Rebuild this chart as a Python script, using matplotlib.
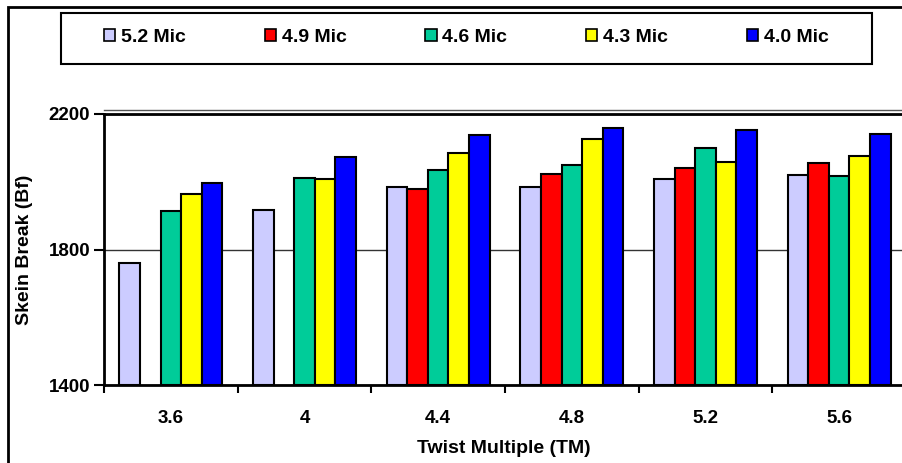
import numpy as np
import matplotlib
matplotlib.use("Agg")
import matplotlib.pyplot as plt
from matplotlib.patches import Rectangle
from matplotlib.transforms import ScaledTranslation

plt.rcParams["font.family"] = ["Liberation Sans", "DejaVu Sans"]
plt.rcParams["font.weight"] = "bold"

# Data
twist_multiple = ["3.6", "4", "4.4", "4.8", "5.2", "5.6"]
series_names = ["5.2 Mic", "4.9 Mic", "4.6 Mic", "4.3 Mic", "4.0 Mic"]
mic_52 = [1760, 1917, 1984, 1984, 2008, 2020]
mic_49 = [np.nan, np.nan, 1979, 2024, 2041, 2054]
mic_46 = [1914, 2010, 2034, 2049, 2099, 2017]
mic_43 = [1963, 2007, 2085, 2125, 2058, 2076]
mic_40 = [1995, 2073, 2139, 2159, 2152, 2140]
colors = ["#CCCCFF", "#FF0000", "#00CC99", "#FFFF00", "#0000FF"]

series = [mic_52, mic_49, mic_46, mic_43, mic_40]

W, H = 903, 463
fig = plt.figure(figsize=(W / 100, H / 100), dpi=100)
fig.patch.set_facecolor("white")

# plot area (right edge runs off the picture like the original)
ax = fig.add_axes([104 / W, (H - 385) / H, 802 / W, 271 / H])

x = np.arange(len(twist_multiple))
bar_w = 1 / 6.5
for i, (vals, name, col) in enumerate(zip(series, series_names, colors)):
    offs = (i - 2) * bar_w
    ax.bar(x + offs, np.array(vals) - 1400, bottom=1400, width=bar_w,
           color=col, edgecolor="black", linewidth=1.5, label=name, zorder=3)

ax.set_xlim(-0.5, len(twist_multiple) - 0.5)
ax.set_ylim(1400, 2200)
ax.set_yticks([1400, 1800, 2200])
ax.set_yticklabels(["1400", "1800", "2200"], fontsize=13.5, fontweight="bold")
ax.yaxis.grid(True, color="#333333", linewidth=1.0, zorder=0)

# category labels centred, tick marks between categories
ax.set_xticks(x)
ax.set_xticklabels(twist_multiple, fontsize=13.5, fontweight="bold")
ax.tick_params(axis="x", length=0, pad=18)
ax.set_xticks(np.arange(len(twist_multiple) + 1) - 0.5, minor=True)
ax.tick_params(axis="x", which="minor", length=6, width=1.5, direction="out")
ax.tick_params(axis="y", length=7, width=1.5, direction="out", pad=3)

for side in ["left", "bottom", "top"]:
    ax.spines[side].set_linewidth(2)
ax.spines["right"].set_visible(False)

# thin double line above the top border
off = ScaledTranslation(0, 2.6 / 72, fig.dpi_scale_trans)
ax.plot([0, 1], [1, 1], transform=ax.transAxes + off, color="#555555",
        linewidth=1.0, clip_on=False)

ax.set_xlabel("Twist Multiple (TM)", fontsize=14, fontweight="bold")
ax.xaxis.set_label_coords((504 - 104) / 802, -(440 - 385) / 271)
ax.set_ylabel("Skein Break (Bf)", fontsize=14, fontweight="bold")
ax.yaxis.set_label_coords(-(104 - 24.5) / 802, 0.5)
ax.yaxis.label.set_va("center")

# legend across the top, inside a plain box
fig.patches.append(Rectangle((61 / W, (H - 64) / H), 811 / W, 51 / H,
                             transform=fig.transFigure, fill=False,
                             edgecolor="black", linewidth=1.5))
handles, labels = ax.get_legend_handles_labels()
leg = fig.legend(handles, labels, loc="center", ncol=5,
                 bbox_to_anchor=((61 + 811 / 2) / W, (H - 37.5) / H),
                 frameon=False, prop={"size": 14, "weight": "bold"},
                 handlelength=0.57, handleheight=0.57, handletextpad=0.3,
                 columnspacing=4.05, borderpad=0)
for h in leg.legend_handles:
    h.set_linewidth(1.2)

# outer chart border (cropped on the right and bottom)
fig.patches.append(Rectangle((8 / W, -0.1), 2, (H - 7) / H + 0.1,
                             transform=fig.transFigure, fill=False,
                             edgecolor="black", linewidth=2))

fig.savefig("out.png", dpi=100)
